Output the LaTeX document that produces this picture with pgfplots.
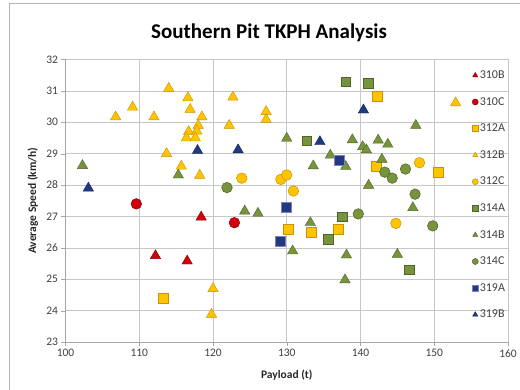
\documentclass[border=0pt]{standalone}
\usepackage{fontspec}
\setmainfont{Carlito}
\usepackage{pgfplots}
\pgfplotsset{compat=1.18}

\definecolor{rd}{HTML}{D0000C}
\definecolor{rdD}{HTML}{8A0008}
\definecolor{yl}{HTML}{FFC400}
\definecolor{ylD}{HTML}{C99200}
\definecolor{gn}{HTML}{77933C}
\definecolor{gnD}{HTML}{4F6328}
\definecolor{nv}{HTML}{1F3A80}
\definecolor{nvD}{HTML}{10204A}

\begin{document}
\begin{tikzpicture}[x=1pt,y=1pt]
\path[use as bounding box] (0,0) rectangle (520,390);
% chart frame
\draw[black!30] (9.5,-5) -- (9.5,386.5) -- (525,386.5);
\node[font=\bfseries\fontsize{21}{24}\selectfont] at (269,357) {Southern Pit TKPH Analysis};
\begin{axis}[
  at={(65.5pt,48pt)}, anchor=south west,
  scale only axis, width=442.5pt, height=282.5pt,
  xmin=100, xmax=160, ymin=23, ymax=32,
  xtick={100,110,...,160}, ytick={23,24,...,32},
  grid=major, major grid style={black!22, line width=0.6pt},
  axis lines=left, axis line style={black!35, -},
  tick align=outside, major tick length=4pt, tick style={black!35},
  /pgf/number format/assume math mode=true,
  /pgf/number format/1000 sep={},
  ticklabel style={font=\fontsize{11.5}{13}\selectfont, text=black!75},
  xlabel={Payload (t)}, ylabel={Average Speed (km/h)},
  label style={font=\bfseries\fontsize{11.5}{13}\selectfont, text=black!85},
  xlabel style={at={(axis description cs:0.5,-0.117)}, anchor=center},
  ylabel style={at={(axis description cs:-0.074,0.5)}, anchor=center},
  legend style={at={(rel axis cs:0.912,0.975)}, anchor=north west, draw=none, fill=none,
    font=\fontsize{12}{13}\selectfont, text=black!75, row sep=13.3pt, cells={anchor=west},
    nodes={inner xsep=1.5pt}},
  legend image code/.code={\draw[mark size=3pt] plot coordinates {(0.12cm,0cm)};},
  clip=false,
]
% 310B
\addplot[only marks, mark=triangle*, mark size=6pt, mark options={fill=rd, draw=rdD, line width=0.4pt}]
  coordinates {(112.2,25.75) (116.5,25.58) (118.4,26.98)};
\addlegendentry{310B}
% 310C
\addplot[only marks, mark=*, mark size=5.3pt, mark options={fill=rd, draw=rdD, line width=0.5pt}]
  coordinates {(109.6,27.40) (122.9,26.80)};
\addlegendentry{310C}
% 312A
\addplot[only marks, mark=square*, mark size=4.9pt, mark options={fill=yl, draw=ylD, line width=0.5pt}]
  coordinates {(113.3,24.40) (130.2,26.60) (133.3,26.50) (137.0,26.60) (142.1,28.60) (142.3,30.82) (150.5,28.40)};
\addlegendentry{312A}
% 312B
\addplot[only marks, mark=triangle*, mark size=6pt, mark options={fill=yl, draw=ylD, line width=0.4pt}]
  coordinates {(106.8,30.17) (109.1,30.48) (112.0,30.17) (114.0,31.08) (113.7,29.00) (115.7,28.60)
  (116.6,30.78) (116.9,30.41) (118.5,30.17) (118.0,29.90) (116.7,29.70) (117.8,29.72) (116.4,29.50)
  (117.6,29.50) (118.2,28.31) (122.7,30.80) (122.2,29.90) (127.2,30.34) (127.2,30.09) (120.0,24.70)
  (119.8,23.88) (152.9,30.62)};
\addlegendentry{312B}
% 312C
\addplot[only marks, mark=*, mark size=5.3pt, mark options={fill=yl, draw=ylD, line width=0.5pt}]
  coordinates {(123.9,28.22) (129.2,28.18) (130.0,28.32) (130.9,27.81) (148.0,28.71) (144.8,26.78)};
\addlegendentry{312C}
% 314A
\addplot[only marks, mark=square*, mark size=4.9pt, mark options={fill=gn, draw=gnD, line width=0.5pt}]
  coordinates {(132.7,29.41) (138.0,31.29) (141.1,31.24) (137.5,26.99) (135.6,26.28) (146.6,25.30)};
\addlegendentry{314A}
% 314B
\addplot[only marks, mark=triangle*, mark size=6pt, mark options={fill=gn, draw=gnD, line width=0.4pt}]
  coordinates {(102.3,28.62) (115.3,28.32) (124.3,27.17) (126.1,27.10) (130.0,29.49) (133.6,28.61)
  (133.2,26.80) (130.8,25.90) (138.9,29.44) (140.3,29.22) (140.8,29.12) (142.4,29.43) (143.7,29.30)
  (147.5,29.90) (135.9,28.95) (138.0,28.59) (142.9,28.82) (141.1,27.99) (147.1,27.28) (138.1,25.77)
  (145.0,25.79) (137.9,24.98)};
\addlegendentry{314B}
% 314C
\addplot[only marks, mark=*, mark size=5.3pt, mark options={fill=gn, draw=gnD, line width=0.5pt}]
  coordinates {(121.9,27.92) (139.7,27.08) (143.3,28.41) (144.3,28.22) (146.1,28.51) (147.4,27.71) (149.8,26.70)};
\addlegendentry{314C}
% 319A
\addplot[only marks, mark=square*, mark size=4.9pt, mark options={fill=nv, draw=black!50!blue!50, line width=0.7pt}]
  coordinates {(129.9,27.29) (129.1,26.20) (137.1,28.78)};
\addlegendentry{319A}
% 319B
\addplot[only marks, mark=triangle*, mark size=6pt, mark options={fill=nv, draw=nvD, line width=0.4pt}]
  coordinates {(103.1,27.90) (117.9,29.10) (123.4,29.12) (134.5,29.38) (140.4,30.39)};
\addlegendentry{319B}
\end{axis}
\end{tikzpicture}
\end{document}
